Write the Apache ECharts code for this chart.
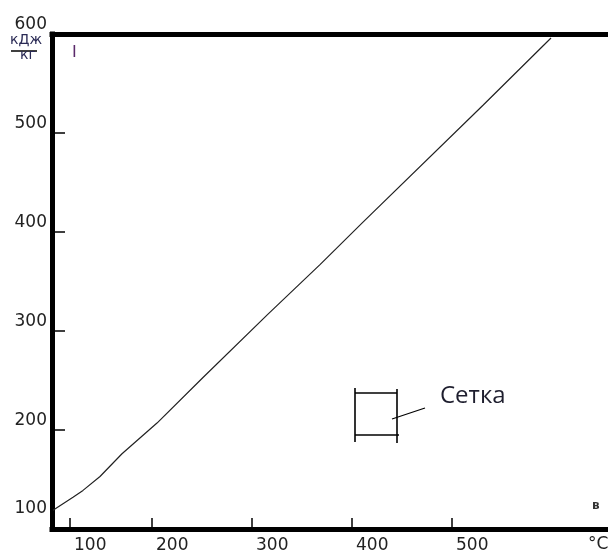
<!DOCTYPE html>
<html>
<head>
<meta charset="utf-8">
<script src="https://cdn.jsdelivr.net/npm/echarts@6/dist/echarts.min.js"></script>
<style>
    html, body { margin: 0; padding: 0; background: #fff; }
    #chart { width: 608px; height: 554px; }
</style>
</head>
<body>
<div id="chart"></div>
<script>
// temperature, °C  /  enthalpy I, кДж/кг
var tempC = [101, 121, 131, 148, 170, 205, 251, 316, 368, 411, 531, 599];
var enthalpy = [119, 132, 139, 153, 176, 207, 253, 317, 367, 410, 528, 596];

// axis ticks and labels (drawn by hand in the original, so not evenly spaced)
var xTickValues = [118, 200, 300, 400, 500];
var xLabelText = ['100', '200', '300', '400', '500'];
var yTickValues = [200, 300, 400, 500];
var yLabelValues = [111, 200, 300, 400, 500, 600];
var yLabelText = ['100', '200', '300', '400', '500', '600'];

var dom = document.getElementById('chart');
var myChart = echarts.init(dom);

var points = [];
for (var i = 0; i < tempC.length; i++) {
    points.push([tempC[i], enthalpy[i]]);
}

var labelFont = {
    color: '#222',
    fontFamily: 'DejaVu Sans',
    fontSize: 17
};

var option = {
    animation: false,
    grid: {
        left: 52,
        right: 0,
        top: 34,
        bottom: 24
    },
    xAxis: [
        {
            type: 'value',
            min: 100,
            max: 656,
            axisLine: {
                lineStyle: { color: '#000', width: 5, cap: 'square' }
            },
            axisTick: {
                inside: true,
                length: 11,
                customValues: xTickValues,
                lineStyle: { color: '#000', width: 1.5 }
            },
            axisLabel: {
                customValues: xTickValues,
                align: 'left',
                margin: 8,
                padding: [0, 0, 0, 4],
                color: labelFont.color,
                fontFamily: labelFont.fontFamily,
                fontSize: labelFont.fontSize,
                formatter: function (v) {
                    return xLabelText[xTickValues.indexOf(v)];
                }
            },
            splitLine: { show: false }
        },
        {
            // top border of the frame
            type: 'value',
            position: 'top',
            min: 100,
            max: 656,
            axisLine: {
                show: true,
                lineStyle: { color: '#000', width: 5, cap: 'square' }
            },
            axisTick: { show: false },
            axisLabel: { show: false },
            splitLine: { show: false }
        }
    ],
    yAxis: {
        type: 'value',
        min: 100,
        max: 600,
        axisLine: {
            show: true,
            lineStyle: { color: '#000', width: 5, cap: 'square' }
        },
        axisTick: {
            show: true,
            inside: true,
            length: 13,
            customValues: yTickValues,
            lineStyle: { color: '#000', width: 1.5 }
        },
        axisLabel: {
            customValues: yLabelValues,
            margin: 5,
            verticalAlign: 'bottom',
            lineHeight: 19,
            color: labelFont.color,
            fontFamily: labelFont.fontFamily,
            fontSize: labelFont.fontSize,
            formatter: function (v) {
                return yLabelText[yLabelValues.indexOf(v)];
            }
        },
        splitLine: { show: false }
    },
    series: [
        {
            name: 'I',
            type: 'line',
            data: points,
            showSymbol: false,
            symbol: 'none',
            lineStyle: { color: '#222', width: 1.2 },
            z: 1
        }
    ],
    graphic: [
        // unit under 600
        {
            type: 'text', left: 10, top: 33,
            style: { text: 'кДж', fill: '#2a2a55', font: '14px "DejaVu Sans"' }
        },
        {
            type: 'line',
            shape: { x1: 11, y1: 51, x2: 37, y2: 51 },
            style: { stroke: '#000', lineWidth: 1.5 }
        },
        {
            type: 'text', left: 20, top: 48,
            style: { text: 'кг', fill: '#2a2a55', font: '14px "DejaVu Sans"' }
        },
        {
            type: 'text', left: 72, top: 45,
            style: { text: 'I', fill: '#5a2a6a', font: '16px "DejaVu Sans"' }
        },
        {
            type: 'text', left: 592, top: 500,
            style: { text: 'в', fill: '#333', font: 'bold 12px "DejaVu Sans"' }
        },
        {
            type: 'text', left: 588, top: 536,
            style: { text: '°C', fill: '#222', font: '17px "DejaVu Sans"' }
        },
        // "Сетка" symbol
        {
            type: 'group',
            children: [
                { type: 'line', shape: { x1: 355, y1: 388, x2: 355, y2: 442 }, style: { stroke: '#000', lineWidth: 1.6 } },
                { type: 'line', shape: { x1: 397, y1: 389, x2: 397, y2: 443 }, style: { stroke: '#000', lineWidth: 1.6 } },
                { type: 'line', shape: { x1: 355, y1: 393, x2: 397, y2: 393 }, style: { stroke: '#000', lineWidth: 1.6 } },
                { type: 'line', shape: { x1: 355, y1: 435, x2: 399, y2: 435 }, style: { stroke: '#000', lineWidth: 1.6 } },
                { type: 'line', shape: { x1: 392, y1: 419, x2: 425, y2: 408 }, style: { stroke: '#000', lineWidth: 1.3 } }
            ]
        },
        {
            type: 'text', left: 440, top: 384,
            style: { text: 'Сетка', fill: '#1e1e2e', font: '24px "Open Sans"' }
        }
    ]
};

if (option && typeof option === "object") {
    myChart.setOption(option, true);
    window.onresize = myChart.resize;
}
</script>
</body>
</html>
